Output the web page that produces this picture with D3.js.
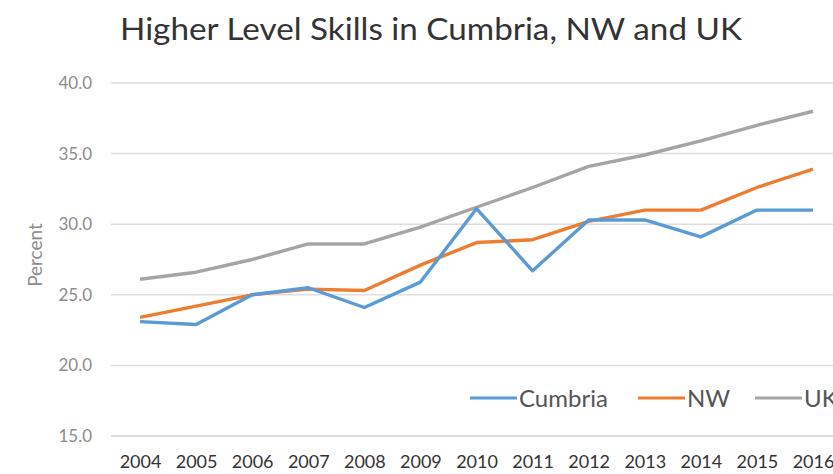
<!DOCTYPE html>
<html>
<head>
<meta charset="utf-8">
<script src="https://cdn.jsdelivr.net/npm/d3@7"></script>
<style>
  body { margin: 0; background: #fff; }
  svg { display: block; font-family: Lato, "Open Sans", sans-serif; }
</style>
</head>
<body>
<svg id="chart" width="833" height="474"></svg>
<script>
// data
var years = ["2004","2005","2006","2007","2008","2009","2010","2011","2012","2013","2014","2015","2016"];
var cumbria = [23.1, 22.9, 25.0, 25.5, 24.1, 25.9, 31.1, 26.7, 30.3, 30.3, 29.1, 31.0, 31.0];
var nw = [23.4, 24.2, 25.0, 25.4, 25.3, 27.1, 28.7, 28.9, 30.2, 31.0, 31.0, 32.6, 33.9];
var uk = [26.1, 26.6, 27.5, 28.6, 28.6, 29.8, 31.2, 32.6, 34.1, 34.9, 35.9, 37.0, 38.0];
var yTicks = [15, 20, 25, 30, 35, 40];
var seriesNames = ["Cumbria", "NW", "UK"];
var colors = ["#5b9bd5", "#ed7d31", "#a5a5a5"];

var svg = d3.select("#chart");

var x = d3.scalePoint().domain(years).range([140, 813]);
var y = d3.scaleLinear().domain([15, 40]).range([436, 83]);

// title
svg.append("text")
  .attr("x", 120).attr("y", 40)
  .attr("font-size", 31)
  .attr("fill", "#333")
  .attr("textLength", 622)
  .attr("lengthAdjust", "spacingAndGlyphs")
  .text("Higher Level Skills in Cumbria, NW and UK");

// gridlines
svg.append("g").selectAll("line")
  .data(yTicks)
  .enter().append("line")
  .attr("x1", 111).attr("x2", 833)
  .attr("y1", function(d){ return y(d); })
  .attr("y2", function(d){ return y(d); })
  .attr("stroke", function(d){ return d == 15 ? "#cfcfcf" : "#dedede"; })
  .attr("stroke-width", 1.5);

// y axis labels
var yAxis = d3.axisLeft(y).tickValues(yTicks).tickFormat(d3.format(".1f")).tickSize(0).tickPadding(0);
svg.append("g")
  .attr("transform", "translate(92,0)")
  .call(yAxis)
  .call(function(g){ g.select(".domain").remove(); })
  .selectAll("text")
  .attr("font-size", 17)
  .attr("fill", "#8c8c8c")
  .attr("font-family", "Lato, sans-serif");

svg.append("text")
  .attr("transform", "translate(42,255) rotate(-90)")
  .attr("text-anchor", "middle")
  .attr("font-size", 19)
  .attr("fill", "#8c8c8c")
  .text("Percent");

// x axis labels
var xAxis = d3.axisBottom(x).tickSize(0).tickPadding(0);
svg.append("g")
  .attr("transform", "translate(0,455)")
  .call(xAxis)
  .call(function(g){ g.select(".domain").remove(); })
  .selectAll("text")
  .attr("font-size", 18)
  .attr("fill", "#333")
  .attr("font-family", "Lato, sans-serif");

// lines
var line = d3.line()
  .x(function(d, i){ return x(years[i]); })
  .y(function(d){ return y(d); });

var allSeries = [cumbria, nw, uk];
// UK underneath, Cumbria on top
[2, 1, 0].forEach(function(k){
  svg.append("path")
    .datum(allSeries[k])
    .attr("d", line)
    .attr("fill", "none")
    .attr("stroke", colors[k])
    .attr("stroke-width", 3.4)
    .attr("stroke-linejoin", "round");
});

// legend
var legendX = [470, 638, 755];
var leg = svg.append("g");
seriesNames.forEach(function(name, k){
  leg.append("line")
    .attr("x1", legendX[k]).attr("x2", legendX[k] + 47)
    .attr("y1", 398).attr("y2", 398)
    .attr("stroke", colors[k]).attr("stroke-width", 3);
  leg.append("text")
    .attr("x", legendX[k] + 49).attr("y", 407)
    .attr("font-size", 24)
    .attr("fill", "#555")
    .text(name);
});
</script>
</body>
</html>
